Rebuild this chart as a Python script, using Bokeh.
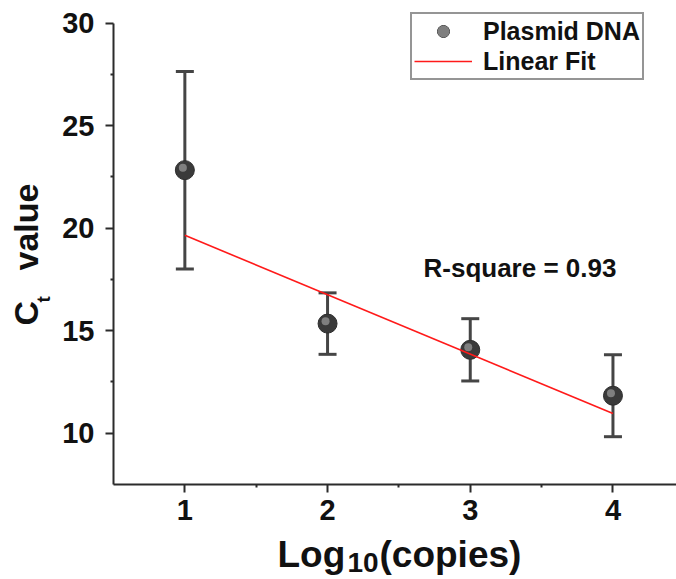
import math

from bokeh.embed import file_html
from bokeh.models import (ColumnDataSource, FixedTicker, Label, Legend,
                          LegendItem, LinearAxis, Range1d, TeeHead, Whisker)
from bokeh.plotting import figure
from bokeh.resources import INLINE

# qPCR standard curve: mean Ct per dilution with its spread
log_copies = [1, 2, 3, 4]
ct_mean = [22.83, 15.34, 14.06, 11.82]
ct_err = [4.82, 1.50, 1.52, 2.00]

# linear fit evaluated at the ends of the dilution series
fit_x = [1, 4]
fit_y = [19.65, 10.95]
r_square = 0.93

x_ticks = [1, 2, 3, 4]
x_minor = [1.5, 2.5, 3.5]
y_ticks = [10, 15, 20, 25, 30]
y_minor = [12.5, 17.5, 22.5, 27.5]

# axis extents and the full view around them
X_LO, X_HI = 0.5, 4.445
Y_LO, Y_HI = 7.5, 30.0
VIEW_X = (-0.2919, 4.4453)
VIEW_Y = (2.85, 31.11)

W, H = 676, 579
FONT = "Liberation Sans"
AXIS = "#2b2b2b"
BAR = "#454545"
INK = "#111111"

p = figure(width=W, height=H, output_backend="svg", toolbar_location=None,
           x_range=Range1d(*VIEW_X), y_range=Range1d(*VIEW_Y),
           x_axis_location=None, y_axis_location=None,
           min_border=0)
p.outline_line_color = None
p.grid.visible = False
p.background_fill_color = "white"
p.border_fill_color = "white"

xaxis = LinearAxis(fixed_location=Y_LO, bounds=(X_LO, X_HI),
                   ticker=FixedTicker(ticks=x_ticks, minor_ticks=x_minor),
                   major_label_standoff=8)
yaxis = LinearAxis(fixed_location=X_LO, bounds=(Y_LO, Y_HI),
                   ticker=FixedTicker(ticks=y_ticks, minor_ticks=y_minor),
                   major_label_standoff=11)
for ax in (xaxis, yaxis):
    ax.axis_line_color = AXIS
    ax.axis_line_width = 2
    ax.major_tick_line_color = AXIS
    ax.major_tick_line_width = 2
    ax.minor_tick_line_color = AXIS
    ax.minor_tick_line_width = 2
    ax.major_tick_out = 8
    ax.major_tick_in = 0
    ax.minor_tick_out = 3
    ax.minor_tick_in = 0
    ax.major_label_text_font = FONT
    ax.major_label_text_font_style = "bold"
    ax.major_label_text_font_size = "29px"
    ax.major_label_text_color = INK
p.add_layout(xaxis, "below")
p.add_layout(yaxis, "left")

src = ColumnDataSource(dict(
    x=log_copies,
    y=ct_mean,
    lower=[m - e for m, e in zip(ct_mean, ct_err)],
    upper=[m + e for m, e in zip(ct_mean, ct_err)],
    # small light spot up and to the left of each marker centre
    hx=[v - 0.014 for v in log_copies],
    hy=[v + 0.12 for v in ct_mean],
))

whisk = Whisker(source=src, base="x", upper="upper", lower="lower",
                line_color=BAR, line_width=3,
                upper_head=TeeHead(size=18, line_color=BAR, line_width=3),
                lower_head=TeeHead(size=18, line_color=BAR, line_width=3))
p.add_layout(whisk)

dots = p.scatter("x", "y", source=src, size=19, fill_color="#3a3a3a",
                 line_color="#2e2e2e", line_width=1)
shine = p.scatter("hx", "hy", source=src, size=8, fill_color="#8c8c8c",
                  line_color=None, fill_alpha=0.85)
fit = p.line(fit_x, fit_y, line_color="#ff1a1a", line_width=1.6)

legend = Legend(items=[LegendItem(label="Plasmid DNA", renderers=[dots, shine]),
                       LegendItem(label="Linear Fit", renderers=[fit])],
                location=(410, H - 80), margin=0, padding=2, spacing=0,
                glyph_width=58, glyph_height=30, label_height=30,
                label_standoff=11,
                label_text_font=FONT, label_text_font_style="bold",
                label_text_font_size="25px", label_text_color=INK,
                border_line_color=AXIS, border_line_width=2,
                background_fill_color="white", background_fill_alpha=1)
p.add_layout(legend)


def screen_text(text, x, y, size, angle=0.0):
    # x, y measured from the top-left corner of the canvas
    p.add_layout(Label(x=x, y=H - y, x_units="screen", y_units="screen",
                       text=text, angle=angle, text_font=FONT,
                       text_font_style="bold", text_font_size=size,
                       text_color=INK, text_align="left",
                       text_baseline="alphabetic"))


# x-axis title: Log10(copies) with subscript base
screen_text("Log", 277, 554, "37px")
screen_text("10", 347, 562, "28px")
screen_text("(copies)", 379, 554, "37px")

# y-axis title: Ct value with subscript t, reading upward
up = math.pi / 2
screen_text("C", 25, 325, "34px", up)
screen_text("t", 43, 302, "19px", up)
screen_text("value", 25, 270, "34px", up)

screen_text(f"R-square = {r_square:.2f}", 423, 267, "26px")

open("out.html", "w").write(file_html(p, INLINE))
